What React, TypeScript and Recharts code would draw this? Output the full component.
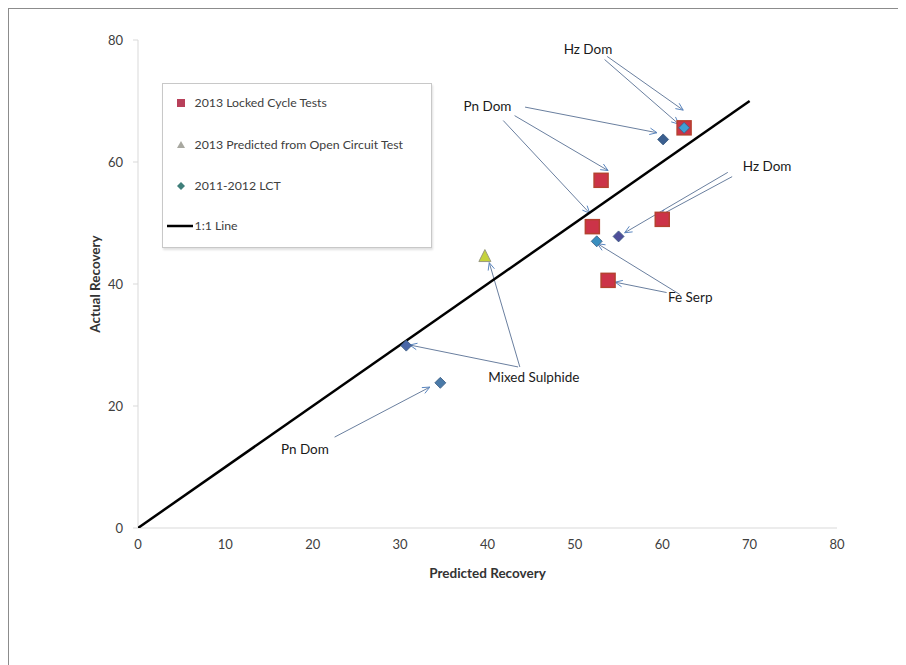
import React from "react";
import {
  ScatterChart,
  Scatter,
  XAxis,
  YAxis,
  Legend,
  ReferenceLine,
  ReferenceDot,
  Cell,
} from "recharts";

// ---- data ----
const lctPredicted = [62.5, 53.0, 52.0, 60.0, 53.8];
const lctActual = [65.6, 57.0, 49.4, 50.6, 40.6];

const openPredicted = [39.7];
const openActual = [44.5];

const histPredicted = [62.5, 60.1, 55.0, 52.5, 30.7, 34.6];
const histActual = [65.6, 63.7, 47.8, 47.0, 29.9, 23.8];

const oneToOneX = [0, 70];
const oneToOneY = [0, 70];

const xTicks = [0, 10, 20, 30, 40, 50, 60, 70, 80];
const yTicks = [0, 20, 40, 60, 80];

const seriesNames = [
  "2013 Locked Cycle Tests",
  "2013 Predicted from Open Circuit Test",
  "2011-2012 LCT",
  "1:1 Line",
];

const annotationLabels = [
  { text: "Hz Dom", x: 51.5, y: 78.5 },
  { text: "Pn Dom", x: 40.0, y: 69.1 },
  { text: "Hz Dom", x: 72.0, y: 59.4 },
  { text: "Fe Serp", x: 63.2, y: 37.8 },
  { text: "Mixed Sulphide", x: 45.3, y: 24.8 },
  { text: "Pn Dom", x: 19.1, y: 13.0 },
];

// arrows: [fromX, fromY, toX, toY]
const annotationArrows = [
  [53.7, 77.3, 62.4, 68.5],
  [53.4, 76.8, 61.9, 66.2],
  [44.3, 69.0, 59.4, 64.8],
  [43.1, 67.6, 53.8, 58.6],
  [41.8, 66.8, 51.7, 51.6],
  [67.5, 58.3, 55.7, 48.4],
  [68.0, 57.6, 59.7, 51.2],
  [60.5, 38.6, 54.6, 40.3],
  [62.0, 38.3, 52.6, 46.6],
  [43.7, 26.4, 40.2, 43.5],
  [43.5, 26.4, 31.1, 30.0],
  [22.5, 14.9, 33.4, 23.1],
];

// ---- styles ----
const histColors = ["#3f9fd6", "#3b5f8f", "#4f4f9a", "#3a8fbf", "#4a67a8", "#4a7aa8"];
const FONT = "Lato, 'Open Sans', sans-serif";

const lctData = lctPredicted.map((x, i) => ({ x, y: lctActual[i] }));
const openData = openPredicted.map((x, i) => ({ x, y: openActual[i] }));
const histData = histPredicted.map((x, i) => ({ x, y: histActual[i] }));
const lineData = oneToOneX.map((x, i) => ({ x, y: oneToOneY[i] }));

const SquareShape = (props: any) => {
  const { cx, cy } = props;
  const s = 14;
  return (
    <rect x={cx - s / 2} y={cy - s / 2} width={s} height={s} fill="#cc3348" stroke="#b5412f" strokeWidth={1.5} />
  );
};

const DiamondShape = (props: any) => {
  const { cx, cy, fill } = props;
  const r = 5.5;
  return (
    <path
      d={`M${cx},${cy - r} L${cx + r},${cy} L${cx},${cy + r} L${cx - r},${cy} Z`}
      fill={fill}
      stroke="#3a5a80"
      strokeWidth={0.8}
    />
  );
};

const TriangleShape = (props: any) => {
  const { cx, cy } = props;
  return (
    <path
      d={`M${cx},${cy - 7} L${cx + 6},${cy + 5} L${cx - 6},${cy + 5} Z`}
      fill="#c5d23c"
      stroke="#9a9a80"
      strokeWidth={1}
    />
  );
};

const NoShape = () => null;

const ArrowShape = (props: any) => {
  const { x1, y1, x2, y2 } = props;
  if ([x1, y1, x2, y2].some((v) => v == null || isNaN(v))) return null;
  const ang = Math.atan2(y2 - y1, x2 - x1);
  const L = 8;
  const spread = 0.42;
  const a1x = x2 - L * Math.cos(ang - spread);
  const a1y = y2 - L * Math.sin(ang - spread);
  const a2x = x2 - L * Math.cos(ang + spread);
  const a2y = y2 - L * Math.sin(ang + spread);
  return (
    <g>
      <line x1={x1} y1={y1} x2={x2} y2={y2} stroke="#6a7f9f" strokeWidth={1} />
      <path d={`M${a1x},${a1y} L${x2},${y2} L${a2x},${a2y}`} fill="none" stroke="#5a86c0" strokeWidth={1} />
    </g>
  );
};

const makeLabelShape = (text: string) => (props: any) => {
  const { cx, cy } = props;
  return (
    <text x={cx} y={cy} textAnchor="middle" dominantBaseline="central" fontFamily={FONT} fontSize={13.5} fill="#1a1a1a">
      {text}
    </text>
  );
};

const LegendContent = () => {
  const textStyle: React.CSSProperties = {
    position: "absolute",
    left: 32,
    fontFamily: FONT,
    fontSize: 12.3,
    color: "#404040",
    lineHeight: "14px",
    whiteSpace: "nowrap",
  };
  const rowsY = [20, 62, 103, 143];
  return (
    <div
      style={{
        position: "relative",
        width: 270,
        height: 165,
        border: "1px solid #c8c8c8",
        boxShadow: "1px 2px 2px rgba(0,0,0,0.12)",
        background: "#fff",
        boxSizing: "border-box",
      }}
    >
      <svg width={270} height={165} style={{ position: "absolute", left: -1, top: -1 }}>
        <rect x={15} y={rowsY[0] - 4} width={8} height={8} fill="#b8405a" />
        <path d={`M19,${rowsY[1] - 4} L23,${rowsY[1] + 3} L15,${rowsY[1] + 3} Z`} fill="#a8a8a0" />
        <path
          d={`M19,${rowsY[2] - 4} L23,${rowsY[2]} L19,${rowsY[2] + 4} L15,${rowsY[2]} Z`}
          fill="#3f7f7a"
        />
        <line x1={5} y1={rowsY[3]} x2={31} y2={rowsY[3]} stroke="#000" strokeWidth={2.5} />
      </svg>
      {seriesNames.map((n, i) => (
        <span key={n} style={{ ...textStyle, top: rowsY[i] - 8 }}>
          {n}
        </span>
      ))}
    </div>
  );
};

export default function App() {
  return (
    <div
      style={{
        width: 898,
        height: 657,
        borderTop: "1.5px solid #8c8c8c",
        borderLeft: "1.5px solid #8c8c8c",
        boxSizing: "border-box",
        position: "relative",
      }}
    >
      <ScatterChart
        width={898}
        height={657}
        margin={{ top: 32, right: 69, bottom: 87, left: 0 }}
        style={{ position: "absolute", left: -1.5, top: -1.5 }}
      >
        <XAxis
          type="number"
          dataKey="x"
          domain={[0, 80]}
          ticks={xTicks}
          allowDataOverflow
          stroke="#d9d9d9"
          tickLine={false}
          tickSize={6}
          tickMargin={6}
          height={50}
          tick={{ fontFamily: FONT, fontSize: 13, fill: "#404040" }}
          label={{
            value: "Predicted Recovery",
            position: "insideBottom",
            offset: 0,
            style: { fontFamily: FONT, fontSize: 13.5, fontWeight: 700, fill: "#333" },
          }}
        />
        <YAxis
          type="number"
          dataKey="y"
          domain={[0, 80]}
          ticks={yTicks}
          allowDataOverflow
          width={130}
          stroke="#d9d9d9"
          tickLine={{ stroke: "#d9d9d9" }}
          tickSize={5}
          tickMargin={10}
          tick={{ fontFamily: FONT, fontSize: 13, fill: "#404040" }}
          label={{
            value: "Actual Recovery",
            angle: -90,
            position: "center",
            dx: 22,
            style: { fontFamily: FONT, fontSize: 13.5, fontWeight: 700, fill: "#333", textAnchor: "middle" },
          }}
        />
        <Legend
          layout="vertical"
          verticalAlign="middle"
          align="center"
          content={<LegendContent />}
          wrapperStyle={{ position: "absolute", left: 154, top: 75, width: 270 }}
        />
        <Scatter
          name={seriesNames[3]}
          data={lineData}
          line={{ stroke: "#000", strokeWidth: 2.5 }}
          shape={NoShape}
          isAnimationActive={false}
          legendType="line"
        />
        <Scatter name={seriesNames[0]} data={lctData} shape={SquareShape} isAnimationActive={false} />
        <Scatter name={seriesNames[1]} data={openData} shape={TriangleShape} isAnimationActive={false} />
        <Scatter name={seriesNames[2]} data={histData} shape={DiamondShape} isAnimationActive={false}>
          {histData.map((_, i) => (
            <Cell key={i} fill={histColors[i]} />
          ))}
        </Scatter>
        {annotationArrows.map((a, i) => (
          <ReferenceLine
            key={"arr" + i}
            segment={[
              { x: a[0], y: a[1] },
              { x: a[2], y: a[3] },
            ]}
            ifOverflow="visible"
            shape={ArrowShape}
          />
        ))}
        {annotationLabels.map((l, i) => (
          <ReferenceDot
            key={"lab" + i}
            x={l.x}
            y={l.y}
            r={0}
            ifOverflow="visible"
            shape={makeLabelShape(l.text)}
          />
        ))}
      </ScatterChart>
    </div>
  );
}
